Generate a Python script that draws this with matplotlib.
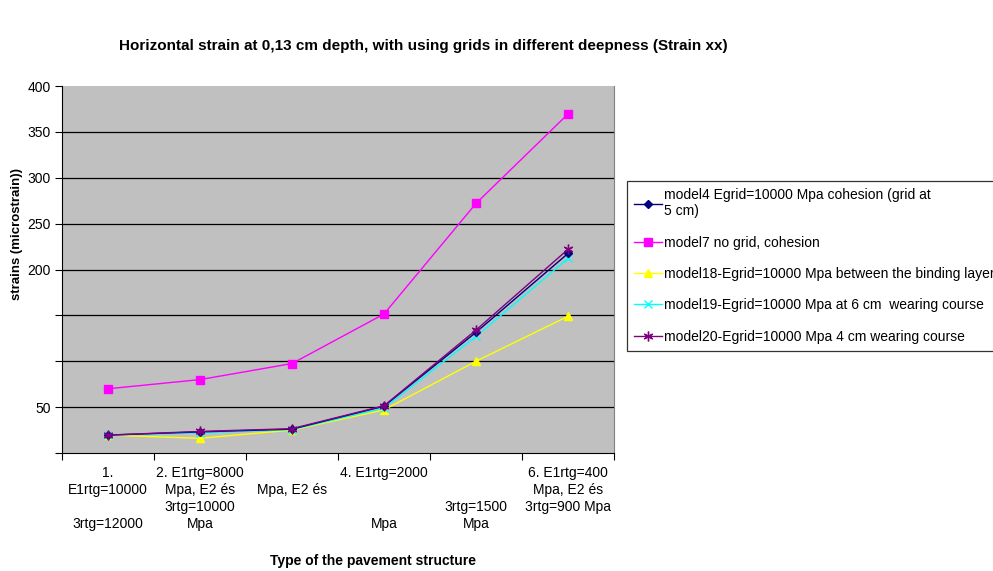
import numpy as np
import matplotlib.pyplot as plt

plt.rcParams['font.family'] = ['Liberation Sans', 'DejaVu Sans']

# pavement structure types (x axis)
categories = [
    "1.\nE1rtg=10000\n\n3rtg=12000",
    "2. E1rtg=8000\nMpa, E2 és\n3rtg=10000\nMpa",
    "\nMpa, E2 és",
    "4. E1rtg=2000\n\n\nMpa",
    "\n\n3rtg=1500\nMpa",
    "6. E1rtg=400\nMpa, E2 és\n3rtg=900 Mpa",
]

# strain xx values (microstrain)
model4 = [19.5, 23, 26, 51, 131.5, 217.5]
model7 = [70, 80, 97.5, 151.5, 272, 369.5]
model18 = [19.5, 16, 25, 47, 100, 149]
model19 = [19.5, 22, 25.5, 49, 127, 212]
model20 = [19.5, 23.5, 26.5, 51.5, 134, 222]

labels = [
    "model4 Egrid=10000 Mpa cohesion (grid at\n5 cm)",
    "model7 no grid, cohesion",
    "model18-Egrid=10000 Mpa between the binding layers",
    "model19-Egrid=10000 Mpa at 6 cm  wearing course",
    "model20-Egrid=10000 Mpa 4 cm wearing course",
]

yticks = [0, 50, 100, 150, 200, 250, 300, 350, 400]
ytick_labels = ["", "50", "", "", "200", "250", "300", "350", "400"]

fig = plt.figure(figsize=(9.93, 5.71), dpi=100)
ax = fig.add_axes([62 / 993, 118 / 571, 552 / 993, 367 / 571])
ax.set_facecolor('#C0C0C0')

x = np.arange(len(categories))
asterisk = (6, 2, 0)
ax.plot(x, model4, color='#000080', marker='D', markersize=4, lw=1, label=labels[0], zorder=5)
ax.plot(x, model7, color='#FF00FF', marker='s', markersize=5.5, lw=1, label=labels[1], zorder=3)
ax.plot(x, model18, color='#FFFF00', marker='^', markersize=5.5, lw=1, label=labels[2], zorder=3)
ax.plot(x, model19, color='#00FFFF', marker='x', markersize=5.5, mew=1, lw=1, label=labels[3], zorder=4)
ax.plot(x, model20, color='#800080', marker=asterisk, markersize=7, mew=1, lw=1, label=labels[4], zorder=6)

ax.set_xlim(-0.5, 5.5)
ax.set_ylim(0, 400)
ax.set_yticks(yticks)
ax.set_yticklabels(ytick_labels, fontsize=10)
for y in yticks[1:-1]:
    ax.axhline(y, color='black', lw=0.9, zorder=1)

# ticks at category boundaries, labels at category centres
ax.set_xticks(np.arange(-0.5, 6, 1))
ax.set_xticklabels([])
ax.set_xticks(x, minor=True)
ax.set_xticklabels(categories, minor=True, fontsize=10, linespacing=1.27, va='top')
ax.tick_params(axis='x', which='minor', length=0, pad=9.5)
ax.tick_params(axis='both', which='major', length=5, width=0.8, direction='out', color='black')
ax.tick_params(axis='y', pad=3)

ax.spines['top'].set_visible(False)
ax.spines['right'].set_color('#808080')
ax.spines['left'].set_linewidth(0.8)
ax.spines['bottom'].set_linewidth(0.8)

fig.text(17 / 993, 1 - 234 / 571, "strains (microstrain))", fontsize=9.5,
         fontweight='bold', rotation=90, ha='center', va='center')
fig.text(373 / 993, 1 - 561 / 571, "Type of the pavement structure", fontsize=10,
         fontweight='bold', ha='center', va='center')
fig.text(423 / 993, 1 - 46 / 571,
         "Horizontal strain at 0,13 cm depth, with using grids in different deepness (Strain xx)",
         fontsize=11, fontweight='bold', ha='center', va='center')

leg = fig.legend(loc='upper left', bbox_to_anchor=(627 / 993, 1 - 181 / 571),
                 fontsize=10, frameon=True, fancybox=False, edgecolor='black',
                 handlelength=2.0, handletextpad=0.2, labelspacing=1.25,
                 borderaxespad=0, borderpad=0.5)
leg.get_frame().set_linewidth(0.9)

fig.savefig('out.png', dpi=100)
